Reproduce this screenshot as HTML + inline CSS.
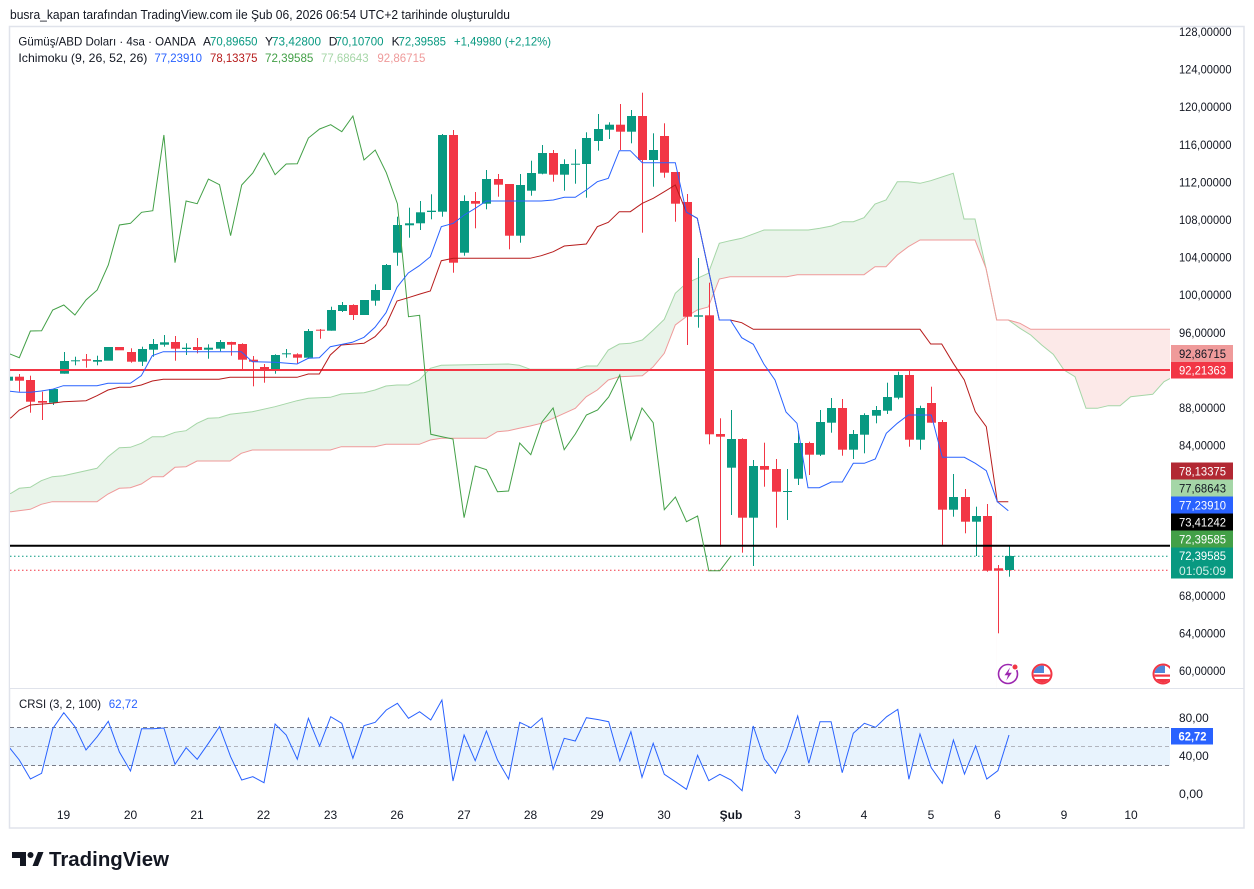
<!DOCTYPE html>
<html><head><meta charset="utf-8"><style>
html,body{margin:0;padding:0;background:#fff;}
svg{display:block;font-family:"Liberation Sans",sans-serif;}
</style></head><body>
<svg width="1254" height="889" viewBox="0 0 1254 889" xmlns="http://www.w3.org/2000/svg">
<defs>
<clipPath id="mp"><rect x="10" y="27" width="1160" height="661"/></clipPath>
<clipPath id="cp"><rect x="10" y="689" width="1160" height="116"/></clipPath>
<clipPath id="fl1"><circle cx="1042" cy="674" r="8.5"/></clipPath>
<clipPath id="fl2"><circle cx="1163" cy="674" r="8.5"/></clipPath>
<clipPath id="axc"><rect x="1000" y="650" width="170" height="40"/></clipPath>
</defs>
<rect width="1254" height="889" fill="#fff"/>
<text x="10" y="19" font-size="13" fill="#131722" textLength="500" lengthAdjust="spacingAndGlyphs">busra_kapan tarafından TradingView.com ile Şub 06, 2026 06:54 UTC+2 tarihinde oluşturuldu</text>
<rect x="9.5" y="26.5" width="1234.5" height="801.5" fill="none" stroke="#e0e3eb" stroke-width="1.5"/>
<g clip-path="url(#mp)">
<polygon fill="#e9f4ea" points="8,494 11,493.3 19.3,488.3 30.3,487.3 41.3,480.7 52.3,476.7 63.3,475.7 97,468.3 108,456.7 119.3,447.7 130.3,447.3 141.3,443.3 152.3,436.7 163.3,436.7 175,432.3 186,430.7 197,423.3 208,418.3 219,417.7 230,414.3 252.3,411.7 275,406.7 297,400.7 308.3,398.3 330.3,397.3 341.3,394 364,392.7 375,390 386,386 397,385 408.3,385 419.3,380 430.3,368.3 441.3,365.3 508.3,364 519.3,365.3 530.3,369.3 575.3,369.3 586.3,366 597.3,366 608.3,350 619.3,344 630.3,343.3 642.3,340 653.3,330 664.3,319.3 675.3,293.3 686.3,283.3 697.3,278.3 708.3,273.3 719.3,243.3 730,240.7 741.7,238.3 764,230 808.3,230 820,228.3 831.7,226 842.7,221.7 853.3,221.7 864,217.7 875,204 886,200 897.3,181.7 908.3,181.7 920,183.3 930.7,180.7 953.3,173.3 964,219 975,219 986,268.3 996.7,320 1008.3,320 1008.3,700 8,700"/>
<polygon fill="#fff" points="8,512 11,511.7 30.3,509.3 41.3,504.3 52.3,501.7 97,501.7 108,494 119.3,488.3 130.3,487.7 141.3,484 152.3,476.7 163.3,476.7 175,467.3 186,466.7 197,461 230,461 241.3,453.3 252.3,450 330.3,450 341.3,446.7 375,446.7 386,444.3 419.3,444.3 430.3,440 441.3,438.3 486.3,438.3 497.3,431.7 508.3,430.7 519.3,428.3 530.3,426 541.3,423.3 553.3,418.3 564.3,413.3 575.3,408.3 586.3,396.7 597.3,390 608.3,380 619.3,376.7 642.3,375.7 653.3,366.7 664.3,353.3 675.3,325 686.3,316.7 697.3,310 708.3,307 719.3,279 730,276.7 786.7,276.7 797.3,274.7 864,274.7 875,266.7 886,266.7 897.3,255 908.3,246.7 920,240 975,240 986,268.3 996.7,320 1008.3,320 1008.3,700 8,700"/>
<polygon fill="#fce9e8" points="996.7,320 1008.3,320 1020,323.3 1030.7,329.3 1175,329.3 1175,700 996.7,700"/>
<polygon fill="#fff" points="996.7,320 1008.3,320 1020,328.3 1030.7,335 1041.7,345 1053.3,354.3 1064,370 1075,376.7 1086,408.3 1097.3,408.3 1108.3,405.7 1120,405.7 1130.7,396.7 1152.7,394.3 1164,381.7 1175,376 1175,700 996.7,700"/>
<polyline fill="none" stroke="#a5d6a7" stroke-width="1" points="8,494 11,493.3 19.3,488.3 30.3,487.3 41.3,480.7 52.3,476.7 63.3,475.7 97,468.3 108,456.7 119.3,447.7 130.3,447.3 141.3,443.3 152.3,436.7 163.3,436.7 175,432.3 186,430.7 197,423.3 208,418.3 219,417.7 230,414.3 252.3,411.7 275,406.7 297,400.7 308.3,398.3 330.3,397.3 341.3,394 364,392.7 375,390 386,386 397,385 408.3,385 419.3,380 430.3,368.3 441.3,365.3 508.3,364 519.3,365.3 530.3,369.3 575.3,369.3 586.3,366 597.3,366 608.3,350 619.3,344 630.3,343.3 642.3,340 653.3,330 664.3,319.3 675.3,293.3 686.3,283.3 697.3,278.3 708.3,273.3 719.3,243.3 730,240.7 741.7,238.3 764,230 808.3,230 820,228.3 831.7,226 842.7,221.7 853.3,221.7 864,217.7 875,204 886,200 897.3,181.7 908.3,181.7 920,183.3 930.7,180.7 953.3,173.3 964,219 975,219 986,268.3 996.7,320 1008.3,320 1020,328.3 1030.7,335 1041.7,345 1053.3,354.3 1064,370 1075,376.7 1086,408.3 1097.3,408.3 1108.3,405.7 1120,405.7 1130.7,396.7 1152.7,394.3 1164,381.7 1175,376"/>
<polyline fill="none" stroke="#ef9a9a" stroke-width="1" points="8,512 11,511.7 30.3,509.3 41.3,504.3 52.3,501.7 97,501.7 108,494 119.3,488.3 130.3,487.7 141.3,484 152.3,476.7 163.3,476.7 175,467.3 186,466.7 197,461 230,461 241.3,453.3 252.3,450 330.3,450 341.3,446.7 375,446.7 386,444.3 419.3,444.3 430.3,440 441.3,438.3 486.3,438.3 497.3,431.7 508.3,430.7 519.3,428.3 530.3,426 541.3,423.3 553.3,418.3 564.3,413.3 575.3,408.3 586.3,396.7 597.3,390 608.3,380 619.3,376.7 642.3,375.7 653.3,366.7 664.3,353.3 675.3,325 686.3,316.7 697.3,310 708.3,307 719.3,279 730,276.7 786.7,276.7 797.3,274.7 864,274.7 875,266.7 886,266.7 897.3,255 908.3,246.7 920,240 975,240 986,268.3 996.7,320 1008.3,320 1020,323.3 1030.7,329.3 1175,329.3"/>
<line x1="10" y1="556.3" x2="1170" y2="556.3" stroke="#089981" stroke-width="1" stroke-dasharray="1.5,2.5"/>
<line x1="10" y1="570.3" x2="1170" y2="570.3" stroke="#f23645" stroke-width="1" stroke-dasharray="1.5,2.5"/>
<g fill="#089981">
<rect x="4" y="376.7" width="9" height="4"/>
<rect x="53" y="389" width="1" height="16"/><rect x="49" y="389" width="9" height="13.7"/>
<rect x="64" y="352" width="1" height="21.7"/><rect x="60" y="361" width="9" height="12.7"/>
<rect x="75" y="356.7" width="1" height="8.6"/><rect x="71" y="360.3" width="9" height="1"/>
<rect x="97" y="355.7" width="1" height="9.6"/><rect x="93" y="360" width="9" height="1.7"/>
<rect x="104" y="347" width="9" height="13.7"/>
<rect x="142" y="346.7" width="1" height="19.3"/><rect x="138" y="349" width="9" height="12.7"/>
<rect x="153" y="339" width="1" height="17.7"/><rect x="149" y="344" width="9" height="5.7"/>
<rect x="164" y="335" width="1" height="11.7"/><rect x="160" y="342.3" width="9" height="2.4"/>
<rect x="186" y="343.3" width="1" height="11.7"/><rect x="182" y="347.7" width="9" height="1.3"/>
<rect x="208" y="344.3" width="1" height="14.4"/><rect x="204" y="347.7" width="9" height="2"/>
<rect x="220" y="340" width="1" height="11.3"/><rect x="216" y="342" width="9" height="6.7"/>
<rect x="275" y="354.3" width="1" height="19.4"/><rect x="271" y="355" width="9" height="15.3"/>
<rect x="286" y="349" width="1" height="8.7"/><rect x="282" y="353.3" width="9" height="1"/>
<rect x="308" y="329" width="1" height="29.7"/><rect x="304" y="331" width="9" height="26.7"/>
<rect x="331" y="306.7" width="1" height="24"/><rect x="327" y="310" width="9" height="20.7"/>
<rect x="342" y="302" width="1" height="10"/><rect x="338" y="305" width="9" height="6"/>
<rect x="360" y="300" width="9" height="15"/>
<rect x="375" y="284.3" width="1" height="21.4"/><rect x="371" y="290" width="9" height="10.7"/>
<rect x="386" y="264" width="1" height="26"/><rect x="382" y="265" width="9" height="25"/>
<rect x="397" y="216.7" width="1" height="49"/><rect x="393" y="225" width="9" height="27.7"/>
<rect x="409" y="207.7" width="1" height="30"/><rect x="405" y="223.3" width="9" height="2"/>
<rect x="420" y="201" width="1" height="29"/><rect x="416" y="212.3" width="9" height="11"/>
<rect x="431" y="194.3" width="1" height="25"/><rect x="427" y="210.7" width="9" height="1.3"/>
<rect x="442" y="134" width="1" height="82.7"/><rect x="438" y="135" width="9" height="76.7"/>
<rect x="464" y="195.3" width="1" height="60.4"/><rect x="460" y="201" width="9" height="51.7"/>
<rect x="486" y="170" width="1" height="39.3"/><rect x="482" y="179" width="9" height="24.7"/>
<rect x="520" y="174" width="1" height="68.7"/><rect x="516" y="185" width="9" height="50.7"/>
<rect x="531" y="160.7" width="1" height="35"/><rect x="527" y="173" width="9" height="17.7"/>
<rect x="542" y="145" width="1" height="29.3"/><rect x="538" y="153" width="9" height="20.7"/>
<rect x="564" y="159.3" width="1" height="31.4"/><rect x="560" y="164" width="9" height="10.7"/>
<rect x="575" y="149.3" width="1" height="34.4"/><rect x="571" y="163.7" width="9" height="1"/>
<rect x="586" y="132.3" width="1" height="65.4"/><rect x="582" y="138" width="9" height="26"/>
<rect x="598" y="114" width="1" height="36.7"/><rect x="594" y="129" width="9" height="12"/>
<rect x="609" y="122.3" width="1" height="16.7"/><rect x="605" y="124.7" width="9" height="5"/>
<rect x="631" y="110" width="1" height="33.3"/><rect x="627" y="116" width="9" height="15.7"/>
<rect x="653" y="133.3" width="1" height="53.4"/><rect x="649" y="150" width="9" height="10"/>
<rect x="698" y="258" width="1" height="69.7"/><rect x="694" y="315.3" width="9" height="1.4"/>
<rect x="731" y="410" width="1" height="105"/><rect x="727" y="439" width="9" height="28.7"/>
<rect x="753" y="460" width="1" height="106"/><rect x="749" y="466" width="9" height="51.7"/>
<rect x="787" y="469" width="1" height="51"/><rect x="783" y="491" width="9" height="1"/>
<rect x="798" y="431" width="1" height="54"/><rect x="794" y="443" width="9" height="35.7"/>
<rect x="820" y="410" width="1" height="46"/><rect x="816" y="422" width="9" height="32.7"/>
<rect x="831" y="398" width="1" height="34.7"/><rect x="827" y="408" width="9" height="14.7"/>
<rect x="853" y="430" width="1" height="29"/><rect x="849" y="434" width="9" height="15.7"/>
<rect x="864" y="413.3" width="1" height="40"/><rect x="860" y="415" width="9" height="19.7"/>
<rect x="876" y="406" width="1" height="17.3"/><rect x="872" y="410" width="9" height="5.7"/>
<rect x="887" y="382.7" width="1" height="31.3"/><rect x="883" y="397" width="9" height="13.7"/>
<rect x="898" y="371.7" width="1" height="27.6"/><rect x="894" y="375" width="9" height="22.7"/>
<rect x="920" y="405.7" width="1" height="44"/><rect x="916" y="408" width="9" height="31.7"/>
<rect x="953" y="474" width="1" height="42.7"/><rect x="949" y="497" width="9" height="12.7"/>
<rect x="976" y="506.7" width="1" height="49.3"/><rect x="972" y="516" width="9" height="5.7"/>
<rect x="1009" y="546" width="1" height="30.7"/><rect x="1005" y="556" width="9" height="14"/>
</g>
<g fill="#f23645">
<rect x="19" y="374" width="1" height="17.7"/><rect x="15" y="376.7" width="9" height="4"/>
<rect x="30" y="375.7" width="1" height="37"/><rect x="26" y="380" width="9" height="21.7"/>
<rect x="42" y="391.7" width="1" height="28.3"/><rect x="38" y="401" width="9" height="1.7"/>
<rect x="86" y="354" width="1" height="13.7"/><rect x="82" y="359.3" width="9" height="1.4"/>
<rect x="115" y="347" width="9" height="3.3"/>
<rect x="131" y="348.3" width="1" height="14.4"/><rect x="127" y="352" width="9" height="9.7"/>
<rect x="175" y="336" width="1" height="24.7"/><rect x="171" y="342" width="9" height="6.7"/>
<rect x="197" y="338" width="1" height="15.3"/><rect x="193" y="347" width="9" height="3"/>
<rect x="231" y="341.7" width="1" height="14"/><rect x="227" y="342" width="9" height="2.7"/>
<rect x="242" y="343.3" width="1" height="25.7"/><rect x="238" y="344" width="9" height="15.7"/>
<rect x="253" y="356" width="1" height="30.3"/><rect x="249" y="359.7" width="9" height="2"/>
<rect x="264" y="364" width="1" height="18.7"/><rect x="260" y="367" width="9" height="2.3"/>
<rect x="297" y="353.3" width="1" height="10"/><rect x="293" y="354.3" width="9" height="3.4"/>
<rect x="320" y="329" width="1" height="9.7"/><rect x="316" y="329.7" width="9" height="1"/>
<rect x="353" y="304.3" width="1" height="15.7"/><rect x="349" y="305" width="9" height="10"/>
<rect x="453" y="130" width="1" height="142.7"/><rect x="449" y="135" width="9" height="127.7"/>
<rect x="475" y="192" width="1" height="36.3"/><rect x="471" y="201" width="9" height="2.7"/>
<rect x="498" y="174" width="1" height="22.7"/><rect x="494" y="179" width="9" height="5.7"/>
<rect x="509" y="184" width="1" height="65.3"/><rect x="505" y="184" width="9" height="51.7"/>
<rect x="553" y="150" width="1" height="31.7"/><rect x="549" y="153" width="9" height="21.7"/>
<rect x="620" y="104" width="1" height="46"/><rect x="616" y="124.7" width="9" height="7"/>
<rect x="642" y="92.7" width="1" height="140"/><rect x="638" y="116" width="9" height="44"/>
<rect x="664" y="123.3" width="1" height="54.4"/><rect x="660" y="136" width="9" height="36.7"/>
<rect x="675" y="172" width="1" height="49.7"/><rect x="671" y="172" width="9" height="31.7"/>
<rect x="687" y="194" width="1" height="151"/><rect x="683" y="202" width="9" height="114.7"/>
<rect x="709" y="282.7" width="1" height="161.6"/><rect x="705" y="315.3" width="9" height="119"/>
<rect x="720" y="418.3" width="1" height="128.4"/><rect x="716" y="434" width="9" height="2.7"/>
<rect x="742" y="438.3" width="1" height="114.4"/><rect x="738" y="439" width="9" height="78.7"/>
<rect x="764" y="442.7" width="1" height="44"/><rect x="760" y="466" width="9" height="3.7"/>
<rect x="776" y="459" width="1" height="68.7"/><rect x="772" y="469" width="9" height="22.7"/>
<rect x="809" y="441.7" width="1" height="33.3"/><rect x="805" y="443" width="9" height="11.7"/>
<rect x="842" y="399" width="1" height="56.7"/><rect x="838" y="408" width="9" height="41.7"/>
<rect x="909" y="370" width="1" height="76.7"/><rect x="905" y="375" width="9" height="64.7"/>
<rect x="931" y="386.7" width="1" height="36"/><rect x="927" y="403" width="9" height="19.7"/>
<rect x="942" y="420" width="1" height="125"/><rect x="938" y="422" width="9" height="87.7"/>
<rect x="965" y="489" width="1" height="44.3"/><rect x="961" y="497" width="9" height="24.7"/>
<rect x="987" y="504" width="1" height="67.7"/><rect x="983" y="516" width="9" height="54.7"/>
<rect x="998" y="565" width="1" height="68.3"/><rect x="994" y="568.3" width="9" height="2.4"/>
</g>
<line x1="10" y1="370" x2="1170" y2="370" stroke="#f23645" stroke-width="2"/>
<line x1="10" y1="545.7" x2="1170" y2="545.7" stroke="#000" stroke-width="2"/>
<polyline fill="none" stroke="#43a047" stroke-width="1" points="8.2,353.3 19.3,357.7 30.4,331 41.6,330.7 52.7,310 63.8,305 74.9,315 86,300 97.2,290 108.3,265 119.4,225 130.5,223.3 141.6,212.3 152.8,210.7 163.9,135 175,262.7 186.1,201 197.2,203.7 208.4,179 219.5,184.7 230.6,235.7 241.7,185 252.8,173 264,153 275.1,174.7 286.2,164 297.3,163.7 308.4,138 319.6,129 330.7,124.7 341.8,131.7 352.9,116 364,160 375.2,150 386.3,172.7 397.4,203.7 408.5,316.7 419.6,315.3 430.8,434.3 441.9,436.7 453,439 464.1,517.7 475.2,466 486.4,469.7 497.5,491.7 508.6,491 519.7,443 530.8,454.7 542,422 553.1,408 564.2,449.7 575.3,434 586.4,415 597.6,410 608.7,397 619.8,375 630.9,439.7 642,408 653.2,422.7 664.3,509.7 675.4,497 686.5,521.7 697.6,516 708.8,570.7 719.9,570.7 731,556"/>
<polyline fill="none" stroke="#b71c1c" stroke-width="1" points="8,419 11,417.7 19.3,410 30.3,405 52.3,403.3 63.3,401.7 86,400.7 97,395.7 108,390 119.3,387.3 130.3,387.3 141.3,385 152.3,381 163.3,379.3 219,379.3 230,377.3 297,377.3 308.3,374 319.3,374 330.3,355 341.3,345 364,343.3 375,336.7 386,325 397,301 408.3,297.7 420,294 430.3,291 441.3,260.7 453.3,258.3 530,258.3 541.3,255.7 553.3,251.7 564.3,246 586.3,244 597.3,226.7 608.3,222.3 619.3,211.7 630.3,211.7 642.3,203.3 653.3,198.3 664.3,191.7 675.3,185 686.3,212 697.3,218.3 719.3,320 730.3,320 741.7,322.7 753.3,329.3 920,329.3 930.7,344 941.7,344 953.3,363.3 964.3,380 975.3,411.7 986.3,426.7 997.3,501.7 1008.3,501.7"/>
<polyline fill="none" stroke="#2962ff" stroke-width="1" points="8,391 19.3,392.3 30.3,392.3 41.3,391 52.3,389.3 63.3,385.7 97,385.7 108,383.3 130.3,383.3 141.3,375.7 152.3,355.7 163.3,351.7 241.3,351.7 252.3,361.7 275,362.3 297,364 308.3,358.3 319.3,357.7 330.3,346.7 352.3,342.3 364,337.3 375,327.3 386,312.7 397,287.3 408.3,273 419.3,265.7 430.3,256.7 441.3,226.7 453.3,223.3 464.3,215 475.3,208.3 486.3,201 541.3,201 553.3,200 564.3,197.3 575.3,197.3 586.3,190 597.3,181.7 608.3,178.3 619.3,150.7 630.3,150.7 642.3,162.7 675.3,162.7 686.3,212 697.3,218.3 719.3,320 730.3,320 741.7,337.7 753.3,344.3 764,364.3 775,380 786,412 797,423.3 808,487.7 819.3,487.7 831.3,482 842.3,482 853.3,463.3 864.3,463.3 875.3,459 886.3,433.3 897.3,423.3 908.3,415 931.3,415 942.3,457.3 964.3,457.3 975.3,463.3 986.3,470.7 997.3,501.7 1008.3,510.7"/>
</g>
<!-- icons -->
<circle cx="1008" cy="674" r="9.5" fill="#fff" stroke="#9c27b0" stroke-width="1.6"/>
<path d="M1010,667.5 L1004.5,675.3 L1008,675.3 L1006.3,680.5 L1011.8,672.7 L1008.3,672.7 Z" fill="#9c27b0"/>
<circle cx="1015" cy="667" r="3" fill="#f23645" stroke="#fff" stroke-width="1"/>
<g clip-path="url(#fl1)"><rect x="1032" y="664" width="20" height="20" fill="#fff"/><rect x="1032" y="674.5" width="20" height="2.2" fill="#f23645"/><rect x="1032" y="679" width="20" height="5" fill="#f23645"/><rect x="1032" y="664" width="12" height="9" fill="#4f86d9"/></g>
<circle cx="1042" cy="674" r="9.5" fill="none" stroke="#f23645" stroke-width="2"/>
<g clip-path="url(#axc)"><g clip-path="url(#fl2)"><rect x="1153" y="664" width="20" height="20" fill="#fff"/><rect x="1153" y="674.5" width="20" height="2.2" fill="#f23645"/><rect x="1153" y="679" width="20" height="5" fill="#f23645"/><rect x="1153" y="664" width="12" height="9" fill="#4f86d9"/></g><circle cx="1163" cy="674" r="9.5" fill="none" stroke="#f23645" stroke-width="2"/></g>
<line x1="10" y1="688.5" x2="1244" y2="688.5" stroke="#e0e3eb" stroke-width="1"/>
<!-- legends -->
<g font-size="12">
<text x="18.4" y="45.5" fill="#131722" textLength="177.6" lengthAdjust="spacingAndGlyphs">Gümüş/ABD Doları · 4sa · OANDA</text>
<text x="203" y="45.5" fill="#131722">A</text><text x="210" y="45.5" fill="#089981" textLength="47.5" lengthAdjust="spacingAndGlyphs">70,89650</text>
<text x="265" y="45.5" fill="#131722">Y</text><text x="272" y="45.5" fill="#089981" textLength="49" lengthAdjust="spacingAndGlyphs">73,42800</text>
<text x="328.7" y="45.5" fill="#131722">D</text><text x="335.5" y="45.5" fill="#089981" textLength="48" lengthAdjust="spacingAndGlyphs">70,10700</text>
<text x="391.6" y="45.5" fill="#131722">K</text><text x="398.5" y="45.5" fill="#089981" textLength="47.5" lengthAdjust="spacingAndGlyphs">72,39585</text>
<text x="454" y="45.5" fill="#089981" textLength="97" lengthAdjust="spacingAndGlyphs">+1,49980 (+2,12%)</text>
<text x="18.4" y="62" fill="#131722" textLength="129" lengthAdjust="spacingAndGlyphs">Ichimoku (9, 26, 52, 26)</text>
<text x="154.4" y="62" fill="#2962ff" textLength="47.6" lengthAdjust="spacingAndGlyphs">77,23910</text>
<text x="210" y="62" fill="#b71c1c" textLength="47.5" lengthAdjust="spacingAndGlyphs">78,13375</text>
<text x="265" y="62" fill="#43a047" textLength="48.4" lengthAdjust="spacingAndGlyphs">72,39585</text>
<text x="321" y="62" fill="#a5d6a7" textLength="47.6" lengthAdjust="spacingAndGlyphs">77,68643</text>
<text x="377.4" y="62" fill="#ef9a9a" textLength="48" lengthAdjust="spacingAndGlyphs">92,86715</text>
</g>
<!-- price axis -->
<g font-size="12" fill="#131722">
<text x="1179" y="36" textLength="52.5" lengthAdjust="spacingAndGlyphs">128,00000</text>
<text x="1179" y="73.6" textLength="52.5" lengthAdjust="spacingAndGlyphs">124,00000</text>
<text x="1179" y="111.2" textLength="52.5" lengthAdjust="spacingAndGlyphs">120,00000</text>
<text x="1179" y="148.8" textLength="52.5" lengthAdjust="spacingAndGlyphs">116,00000</text>
<text x="1179" y="186.4" textLength="52.5" lengthAdjust="spacingAndGlyphs">112,00000</text>
<text x="1179" y="224" textLength="52.5" lengthAdjust="spacingAndGlyphs">108,00000</text>
<text x="1179" y="261.6" textLength="52.5" lengthAdjust="spacingAndGlyphs">104,00000</text>
<text x="1179" y="299.2" textLength="52.5" lengthAdjust="spacingAndGlyphs">100,00000</text>
<text x="1179" y="336.8" textLength="46.5" lengthAdjust="spacingAndGlyphs">96,00000</text>
<text x="1179" y="412" textLength="46.5" lengthAdjust="spacingAndGlyphs">88,00000</text>
<text x="1179" y="449.6" textLength="46.5" lengthAdjust="spacingAndGlyphs">84,00000</text>
<text x="1179" y="600" textLength="46.5" lengthAdjust="spacingAndGlyphs">68,00000</text>
<text x="1179" y="637.6" textLength="46.5" lengthAdjust="spacingAndGlyphs">64,00000</text>
<text x="1179" y="675.2" textLength="46.5" lengthAdjust="spacingAndGlyphs">60,00000</text>
</g>
<g font-size="12">
<rect x="1171" y="345" width="62" height="17" fill="#ef9a9a"/><text x="1179" y="357.8" fill="#131722" textLength="47" lengthAdjust="spacingAndGlyphs">92,86715</text>
<rect x="1171" y="362" width="62" height="16.5" fill="#f23645"/><text x="1179" y="374.5" fill="#fff" textLength="47" lengthAdjust="spacingAndGlyphs">92,21363</text>
<rect x="1171" y="462.5" width="62" height="17" fill="#b22833"/><text x="1179" y="475.3" fill="#fff" textLength="47" lengthAdjust="spacingAndGlyphs">78,13375</text>
<rect x="1171" y="479.5" width="62" height="17" fill="#a5d6a7"/><text x="1179" y="492.3" fill="#131722" textLength="47" lengthAdjust="spacingAndGlyphs">77,68643</text>
<rect x="1171" y="496.5" width="62" height="17" fill="#2962ff"/><text x="1179" y="509.3" fill="#fff" textLength="47" lengthAdjust="spacingAndGlyphs">77,23910</text>
<rect x="1171" y="513.5" width="62" height="17" fill="#000"/><text x="1179" y="526.3" fill="#fff" textLength="47" lengthAdjust="spacingAndGlyphs">73,41242</text>
<rect x="1171" y="530.5" width="62" height="17" fill="#43a047"/><text x="1179" y="543.3" fill="#fff" textLength="47" lengthAdjust="spacingAndGlyphs">72,39585</text>
<rect x="1171" y="547.5" width="62" height="31" fill="#089981"/><text x="1179" y="560" fill="#fff" textLength="47" lengthAdjust="spacingAndGlyphs">72,39585</text>
<text x="1179" y="575" fill="#d4efe9" textLength="47" lengthAdjust="spacingAndGlyphs">01:05:09</text>
</g>
<!-- CRSI pane -->
<g clip-path="url(#cp)">
<rect x="10" y="727.5" width="1160" height="38" fill="#e8f3fd"/>
<line x1="10" y1="727.5" x2="1170" y2="727.5" stroke="#787b86" stroke-width="1" stroke-dasharray="4,3"/>
<line x1="10" y1="746.5" x2="1170" y2="746.5" stroke="#b2b5be" stroke-width="1" stroke-dasharray="4,3"/>
<line x1="10" y1="765.5" x2="1170" y2="765.5" stroke="#787b86" stroke-width="1" stroke-dasharray="4,3"/>
<polyline fill="none" stroke="#2962ff" stroke-width="1" points="8.2,746 19.3,760 30.4,779 41.6,773.3 52.7,728.7 63.8,712.7 74.9,726.7 86,750 97.2,736.7 108.3,721.3 119.4,752 130.5,771 141.6,728.7 152.8,728.7 163.9,728 175,764.3 186.1,747.7 197.2,759.3 208.4,743.3 219.5,726.7 230.6,756.7 241.7,780 252.8,776.7 264,782.7 275.1,724 286.2,735 297.3,759.3 308.4,718.3 319.6,746 330.7,716.7 341.8,723.3 352.9,758.3 364,725.7 375.2,722.3 386.3,710 397.4,703.3 408.5,718.3 419.6,711.7 430.8,720 441.9,700 453,781 464.1,735 475.2,760.7 486.4,731 497.5,760 508.6,779 519.7,722.3 530.8,727.7 542,718 553.1,769.3 564.2,738.3 575.3,741 586.4,717.7 597.6,719.5 608.7,721.7 619.8,761 630.9,731.7 642,777.3 653.2,743.3 664.3,774.3 675.4,781.7 686.5,789.3 697.6,755.3 708.8,780.7 719.9,774.3 731,780 742.1,790.7 753.2,726 764.4,759 775.5,773.3 786.6,750 797.7,716 808.8,763.3 820,721.7 831.1,721.7 842.2,772.7 853.3,733.3 864.4,723.3 875.6,727.3 886.7,716.7 897.8,709.3 908.9,779.3 920,734 931.2,767.7 942.3,783.3 953.4,740 964.5,774 975.6,746 986.8,779 997.9,770.7 1009,735"/>
</g>
<g font-size="12">
<text x="19" y="708" fill="#131722" textLength="82" lengthAdjust="spacingAndGlyphs">CRSI (3, 2, 100)</text>
<text x="108.7" y="708" fill="#2962ff" textLength="29" lengthAdjust="spacingAndGlyphs">62,72</text>
<text x="1179" y="722" fill="#131722" textLength="29.7" lengthAdjust="spacingAndGlyphs">80,00</text>
<text x="1179" y="760" fill="#131722" textLength="29.7" lengthAdjust="spacingAndGlyphs">40,00</text>
<text x="1179" y="798" fill="#131722" textLength="24" lengthAdjust="spacingAndGlyphs">0,00</text>
<rect x="1171" y="728" width="42" height="16.5" fill="#2962ff"/>
<text x="1178.5" y="740.5" fill="#fff" font-weight="bold" textLength="28" lengthAdjust="spacingAndGlyphs">62,72</text>
</g>
<!-- time axis -->
<g font-size="12" fill="#131722" text-anchor="middle">
<text x="63.5" y="819">19</text>
<text x="130.5" y="819">20</text>
<text x="197" y="819">21</text>
<text x="263.5" y="819">22</text>
<text x="330.5" y="819">23</text>
<text x="397" y="819">26</text>
<text x="464" y="819">27</text>
<text x="530.5" y="819">28</text>
<text x="597" y="819">29</text>
<text x="664" y="819">30</text>
<text x="731" y="819" font-weight="bold">Şub</text>
<text x="797.5" y="819">3</text>
<text x="864" y="819">4</text>
<text x="931" y="819">5</text>
<text x="997.5" y="819">6</text>
<text x="1064" y="819">9</text>
<text x="1131" y="819">10</text>
</g>
<!-- logo -->
<path d="M12,852 H26 V866 H20 V858 H12 Z" fill="#131722"/>
<circle cx="30.5" cy="855" r="3" fill="#131722"/>
<path d="M32.5,866 L38,852 H43.5 L38,866 Z" fill="#131722"/>
<text x="49" y="866" font-size="20" font-weight="bold" fill="#131722" textLength="120" lengthAdjust="spacingAndGlyphs">TradingView</text>
</svg>
</body></html>
